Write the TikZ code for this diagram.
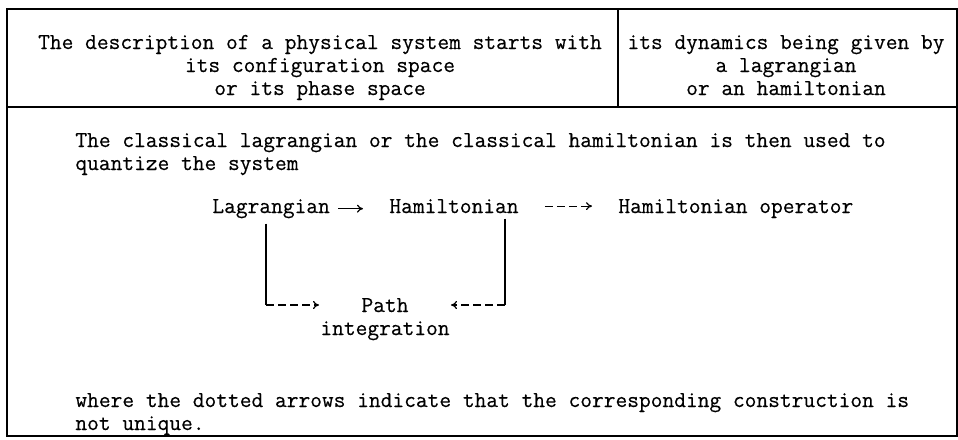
\documentclass[tikz,border=0pt]{standalone}
\usepackage{fontspec}
\newfontfamily\typewriter{Latin Modern Mono}[FakeBold=0.4]
\usetikzlibrary{arrows.meta,positioning}

\begin{document}
\begin{tikzpicture}[x=0.5pt,y=-0.5pt]
\tikzstyle{words} = [
	font=\typewriter\fontsize{11.4}{11.5}\selectfont, %typewriter text
	inner sep=0pt,
	anchor=base
];
\tikzstyle{frame} = [line width=1.2pt, color=black];
\tikzstyle{solidarrow} = [-{To[length=3pt,width=4pt]}, line width=0.6pt];
\tikzstyle{dotarrow} = [-{To[length=3pt,width=4pt]}, line width=0.6pt, dash pattern=on 4pt off 2pt];

\useasboundingbox (0,0) rectangle (958,439);

%table frame
\draw[frame] (7,9) rectangle (957,436);
\draw[frame] (7,107) -- (957,107);
\draw[frame] (618,9) -- (618,107);

%header cells (base = last line)
\node[words, align=center] (space) at (320,95) {The description of a physical system starts with\\its configuration space\\or its phase space};
\node[words, align=center] (dynamics) at (786,95) {its dynamics being given by\\a lagrangian\\or an hamiltonian};

%explanation
\node[words, align=left, anchor=base west] (intro) at (75,170) {The classical lagrangian or the classical hamiltonian is then used to\\quantize the system};
\node[words, align=left, anchor=base west] (remark) at (75,430) {where the dotted arrows indicate that the corresponding construction is\\not unique.};

%quantization scheme
\node[words, anchor=base west] (lag) at (212,213) {Lagrangian};
\node[words, anchor=base west] (ham) at (389,213) {Hamiltonian};
\node[words, anchor=base west] (hop) at (618,213) {Hamiltonian operator};
\node[words, align=center] (path) at (385,335) {Path\\integration};

\coordinate (lcorner) at (266,305);
\coordinate (rcorner) at (505,305);

%unique constructions
\draw[solidarrow, shorten <=4pt, shorten >=13pt] (lag.east) -- (lag.east -| ham.west);
\draw[line width=0.6pt, shorten <=2.5pt] (lag.south -| lcorner) -- (lcorner);
\draw[line width=0.6pt, shorten <=2.5pt] (ham.south -| rcorner) -- (rcorner);

%not unique
\draw[dotarrow, shorten <=13pt, shorten >=13pt] (ham.east) -- (ham.east -| hop.west);
\draw[dotarrow, shorten >=0.5pt] (lcorner) -- (lcorner -| path.west);
\draw[dotarrow, shorten >=0.5pt] (rcorner) -- (rcorner -| path.east);
\end{tikzpicture}
\end{document}
